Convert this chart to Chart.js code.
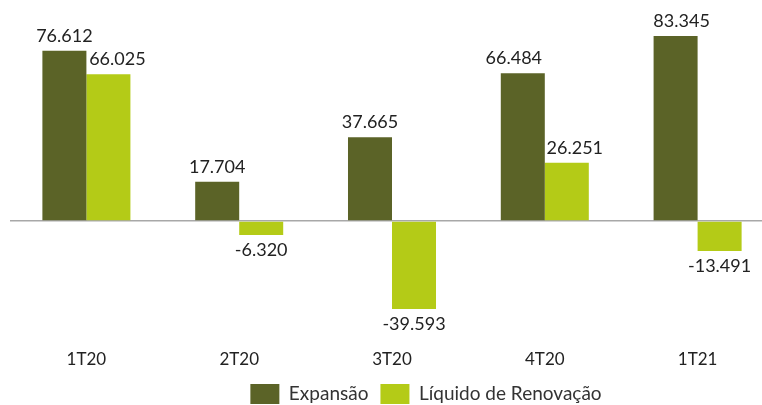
<!DOCTYPE html>
<html>
<head>
<meta charset="utf-8">
<script src="https://cdn.jsdelivr.net/npm/chart.js@4/dist/chart.umd.min.js"></script>
<style>
html,body{margin:0;padding:0;background:#fff;overflow:hidden;width:762px;height:405px;}
#wrap{position:relative;width:774px;height:405px;}
</style>
</head>
<body>
<div id="wrap"><canvas id="c"></canvas></div>
<script>
const categories = ['1T20', '2T20', '3T20', '4T20', '1T21'];
const expansao = [76.612, 17.704, 37.665, 66.484, 83.345];
const liquidoRenovacao = [66.025, -6.320, -39.593, 26.251, -13.491];
const seriesNames = ['Expansão', 'Líquido de Renovação'];

const fmt = v => v.toFixed(3);

// label horizontal nudges (style), keyed "dataset:index"
const labelNudge = { '1:0': 9, '1:3': 8, '0:3': -9, '0:4': 6 };

const labelPlugin = {
  id: 'barLabels',
  afterDatasetsDraw(chart) {
    const ctx = chart.ctx;
    ctx.save();
    ctx.font = '18px Lato';
    ctx.fillStyle = '#222';
    ctx.textAlign = 'center';
    ctx.textBaseline = 'alphabetic';
    chart.data.datasets.forEach((ds, di) => {
      const meta = chart.getDatasetMeta(di);
      meta.data.forEach((bar, i) => {
        const v = ds.data[i];
        const dx = labelNudge[di + ':' + i] || 0;
        if (v >= 0) ctx.fillText(fmt(v), bar.x + dx, bar.y - 9);
        else ctx.fillText(fmt(v), bar.x + dx, bar.y + 21);
      });
    });
    ctx.restore();
  }
};

const legendAdjust = {
  id: 'legendAdjust',
  beforeLayout(chart) {
    const lg = chart.legend;
    if (lg && !lg._patched) {
      const f = lg.fit.bind(lg);
      lg.fit = function () { f(); this._origH = this.height; this.height -= 21; };
      lg._patched = true;
    }
  },
  afterLayout(chart) {
    const lg = chart.legend;
    if (lg) {
      lg.left += 34; lg.right += 34;
      lg.height = lg._origH;
      lg.top = 372;
      lg.bottom = lg.top + lg._origH;
    }
  }
};

new Chart(document.getElementById('c'), {
  type: 'bar',
  data: {
    labels: categories,
    datasets: [
      { label: seriesNames[0], data: expansao, backgroundColor: '#5b6327' },
      { label: seriesNames[1], data: liquidoRenovacao, backgroundColor: '#b4cb17' }
    ]
  },
  options: {
    responsive: true,
    maintainAspectRatio: false,
    animation: false,
    devicePixelRatio: 1,
    layout: { padding: { left: 10, right: 0, top: 0, bottom: 0 } },
    datasets: { bar: { categoryPercentage: 0.576, barPercentage: 1.0 } },
    plugins: {
      legend: {
        position: 'bottom',
        labels: {
          boxWidth: 29, boxHeight: 20, padding: 12,
          color: '#333',
          font: { family: 'Lato', size: 19 }
        }
      },
      tooltip: { enabled: false }
    },
    scales: {
      x: {
        grid: { display: false },
        border: { display: false },
        ticks: { color: '#222', font: { family: 'Lato', size: 17 }, padding: 14 }
      },
      y: {
        min: -48, max: 99.5,
        afterFit(s) { s.width = 0; },
        ticks: { display: false, stepSize: 10 },
        border: { display: false },
        grid: {
          drawTicks: false,
          lineWidth: 1.5,
          color: c => (c.tick && c.tick.value === 0) ? '#a8a8a8' : 'rgba(0,0,0,0)'
        }
      }
    }
  },
  plugins: [labelPlugin, legendAdjust]
});
</script>
</body>
</html>
